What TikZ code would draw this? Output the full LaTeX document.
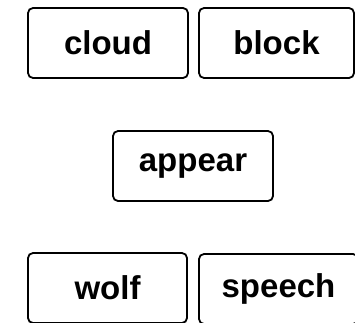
\documentclass[tikz,border=0pt]{standalone}
\usepackage{fontspec}
\setmainfont{Liberation Sans}
\begin{document}
\begin{tikzpicture}[x=1pt,y=1pt,
  wordbox/.style={draw=black, line width=1.8pt, rounded corners=5pt, fill=white,
    minimum height=70pt, inner sep=0pt, font=\fontsize{33}{38}\selectfont\bfseries}]
\useasboundingbox (0,0) rectangle (355,322);
\clip (0,0) rectangle (355,322);
\node[wordbox, minimum width=160pt] (cloud) at (108,279) {cloud};
\node[wordbox, minimum width=155pt] (block) at (276.5,279) {block};
\node[wordbox, minimum width=160pt] (appear) at (193,156) {appear};
\node[wordbox, minimum width=159pt] (wolf) at (107.5,34) {wolf};
\node[wordbox, minimum width=159pt] (speech) at (278.5,33) {speech};
\end{tikzpicture}
\end{document}
